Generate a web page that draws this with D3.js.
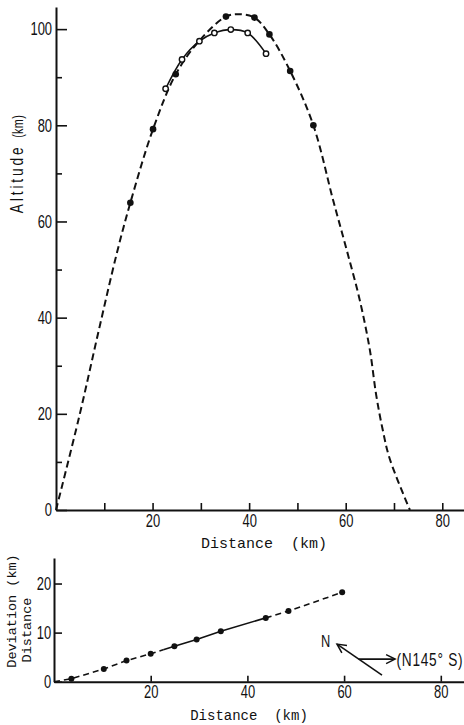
<!DOCTYPE html>
<html>
<head>
<meta charset="utf-8">
<script src="https://cdn.jsdelivr.net/npm/d3@7"></script>
<style>
  body { margin: 0; background: #fff; }
  svg text { fill: #111; }
  .num { font-family: "Liberation Sans", Arial, sans-serif; font-size: 18px; }
  .mono { font-family: "Liberation Mono", "DejaVu Sans Mono", monospace; white-space: pre; }
</style>
</head>
<body>
<div id="chart"></div>
<script>
// dashed trajectory (distance km, altitude km)
var trackX = [0, 4.8, 8.8, 12.6, 15.4, 20.1, 24.8, 29.7, 35.2, 38.1, 41.1, 44.2, 48.5, 53.3, 57.4, 60.2, 62.9, 65.0, 66.3, 67.6, 69.1, 73.3];
var trackY = [0, 19.4, 37.1, 53.4, 63.9, 79.2, 90.6, 97.6, 102.6, 103.1, 102.4, 98.9, 91.3, 80.0, 64.4, 54.1, 43.7, 33.3, 24.0, 17.0, 10.7, 0];

// filled dots on the dashed curve
var dotX = [15.4, 20.1, 24.8, 35.2, 41.1, 44.2, 48.5, 53.3];
var dotY = [63.9, 79.2, 90.6, 102.6, 102.4, 98.9, 91.3, 80.0];

// open circles, solid curve
var obsX = [22.7, 26.1, 29.7, 32.8, 36.2, 39.7, 43.5];
var obsY = [87.6, 93.7, 97.5, 99.2, 99.9, 99.2, 94.9];

// lower panel: deviation distance vs distance
var devX = [3.6, 10.3, 15.0, 20.0, 24.9, 29.5, 34.5, 43.8, 48.5, 59.6];
var devY = [0.6, 2.6, 4.3, 5.7, 7.2, 8.6, 10.3, 13.0, 14.4, 18.2];
var devSolid = [22.6, 43.8];   // part of the lower line drawn solid

var xTicks = [10, 20, 30, 40, 50, 60, 70, 80];
var yMajor = [0, 20, 40, 60, 80, 100];
var yMinor = [10, 30, 50, 70, 90];
var devXTicks = [20, 40, 60, 80];
var devYTicks = [0, 10, 20];

var width = 464, height = 725;
var squeeze = 0.72;   // narrow figures like the printed ones

var svg = d3.select("#chart").append("svg")
    .attr("width", width)
    .attr("height", height);

var ink = "#111";

// ---------- upper panel ----------
var x = d3.scaleLinear().domain([0, 84.5]).range([56, 464]);
var y = d3.scaleLinear().domain([0, 104.6]).range([510, 7]);

var gx = svg.append("g").attr("class", "num")
    .attr("transform", "translate(0," + y(0) + ")")
    .call(d3.axisBottom(x)
        .tickValues(xTicks)
        .tickSizeInner(-7)
        .tickSizeOuter(0)
        .tickPadding(4)
        .tickFormat(d => d % 20 === 0 ? d : ""));

var gy = svg.append("g").attr("class", "num")
    .attr("transform", "translate(" + x(0) + ",0)")
    .call(d3.axisLeft(y)
        .tickValues(yMajor)
        .tickSizeInner(-11)
        .tickSizeOuter(0)
        .tickPadding(5.5));

svg.append("g")
    .attr("transform", "translate(" + x(0) + ",0)")
    .call(d3.axisLeft(y).tickValues(yMinor).tickSizeInner(-6).tickSizeOuter(0).tickFormat(""))
    .call(g => g.select(".domain").remove())
    .call(g => g.selectAll(".tick line").attr("stroke", ink).attr("stroke-width", 1.6));

svg.append("text").attr("class", "mono")
    .attr("x", 264).attr("y", 548)
    .attr("text-anchor", "middle")
    .style("font-size", "15px")
    .text("Distance  (km)");

var alt = svg.append("text").attr("class", "num")
    .attr("transform", "translate(23,164) rotate(-90) scale(" + squeeze + ",1)")
    .attr("text-anchor", "middle")
    .style("font-size", "19px")
    .style("letter-spacing", "4px");
alt.append("tspan").text("Altitude  ");
alt.append("tspan")
    .style("font-size", "15px")
    .style("letter-spacing", "0.5px")
    .text("(km)");

var track = trackX.map((d, i) => [d, trackY[i]]);
var dots = dotX.map((d, i) => [d, dotY[i]]);
var obs = obsX.map((d, i) => [d, obsY[i]]);

var line = d3.line()
    .x(d => x(d[0]))
    .y(d => y(d[1]))
    .curve(d3.curveCatmullRom.alpha(0.5));

svg.append("path")
    .datum(track)
    .attr("d", line)
    .attr("fill", "none")
    .attr("stroke", ink)
    .attr("stroke-width", 2)
    .attr("stroke-dasharray", "7,4");

svg.append("path")
    .datum(obs)
    .attr("d", line)
    .attr("fill", "none")
    .attr("stroke", ink)
    .attr("stroke-width", 1.6);

svg.append("g").selectAll("circle")
    .data(dots)
    .enter().append("circle")
    .attr("cx", d => x(d[0]))
    .attr("cy", d => y(d[1]))
    .attr("r", 3.3)
    .attr("fill", ink);

svg.append("g").selectAll("circle")
    .data(obs)
    .enter().append("circle")
    .attr("cx", d => x(d[0]))
    .attr("cy", d => y(d[1]))
    .attr("r", 2.7)
    .attr("fill", "#fff")
    .attr("stroke", ink)
    .attr("stroke-width", 1.4);

// ---------- lower panel ----------
var xb = d3.scaleLinear().domain([0, 84.8]).range([54, 464]);
var yb = d3.scaleLinear().domain([0, 25.2]).range([681.7, 558]);

var gxb = svg.append("g").attr("class", "num")
    .attr("transform", "translate(0," + yb(0) + ")")
    .call(d3.axisBottom(xb)
        .tickValues(devXTicks)
        .tickSizeInner(-6)
        .tickSizeOuter(0)
        .tickPadding(4));

var gyb = svg.append("g").attr("class", "num")
    .attr("transform", "translate(" + xb(0) + ",0)")
    .call(d3.axisLeft(yb)
        .tickValues(devYTicks)
        .tickSizeInner(-8)
        .tickSizeOuter(0)
        .tickPadding(4));

[gx, gy, gxb, gyb].forEach(g => {
    g.select(".domain").attr("stroke", ink).attr("stroke-width", 2);
    g.selectAll(".tick line").attr("stroke", ink).attr("stroke-width", 1.6);
    g.selectAll(".tick text")
        .attr("fill", ink)
        .attr("transform", "scale(" + squeeze + ",1)");
});

svg.append("text").attr("class", "mono")
    .attr("x", 249).attr("y", 720)
    .attr("text-anchor", "middle")
    .style("font-size", "14px")
    .text("Distance  (km)");

svg.append("text").attr("class", "mono")
    .attr("transform", "translate(15.5,611) rotate(-90)")
    .attr("text-anchor", "middle")
    .style("font-size", "13.5px")
    .text("Deviation (km)");

svg.append("text").attr("class", "mono")
    .attr("transform", "translate(31,630) rotate(-90)")
    .attr("text-anchor", "middle")
    .style("font-size", "13.5px")
    .text("Distance");

var dev = [[0, 0]].concat(devX.map((d, i) => [d, devY[i]]));

// split the lower line into dashed / solid / dashed pieces
function cut(pts, at) {
    for (var i = 1; i < pts.length; i++) {
        if (pts[i][0] >= at) {
            var t = (at - pts[i - 1][0]) / (pts[i][0] - pts[i - 1][0]);
            return [at, pts[i - 1][1] + t * (pts[i][1] - pts[i - 1][1])];
        }
    }
}
var a = cut(dev, devSolid[0]), b = cut(dev, devSolid[1]);
var seg1 = dev.filter(d => d[0] < devSolid[0]).concat([a]);
var seg2 = [a].concat(dev.filter(d => d[0] > devSolid[0] && d[0] < devSolid[1])).concat([b]);
var seg3 = [b].concat(dev.filter(d => d[0] > devSolid[1]));

var lineB = d3.line().x(d => xb(d[0])).y(d => yb(d[1]));

[[seg1, "6,4"], [seg2, null], [seg3, "6,4"]].forEach(s => {
    svg.append("path")
        .datum(s[0])
        .attr("d", lineB)
        .attr("fill", "none")
        .attr("stroke", ink)
        .attr("stroke-width", 1.6)
        .attr("stroke-dasharray", s[1]);
});

svg.append("g").selectAll("circle")
    .data(dev.slice(1))
    .enter().append("circle")
    .attr("cx", d => xb(d[0]))
    .attr("cy", d => yb(d[1]))
    .attr("r", 3)
    .attr("fill", ink);

// compass note: N and direction of deviation axis
var defs = svg.append("defs");
defs.append("marker")
    .attr("id", "arr")
    .attr("viewBox", "-10 -6 12 12")
    .attr("markerWidth", 12).attr("markerHeight", 12)
    .attr("markerUnits", "userSpaceOnUse")
    .attr("orient", "auto")
    .append("path")
    .attr("d", "M-9,-4.5L0,0L-9,4.5")
    .attr("fill", "none")
    .attr("stroke", ink)
    .attr("stroke-width", 1.5);

var cx = xb(63.0), cy = yb(4.6);
svg.append("line")
    .attr("x1", cx + 23.4).attr("y1", cy + 16)
    .attr("x2", cx - 21.6).attr("y2", cy - 15)
    .attr("stroke", ink).attr("stroke-width", 1.6)
    .attr("marker-end", "url(#arr)");
svg.append("line")
    .attr("x1", cx).attr("y1", cy)
    .attr("x2", cx + 36.5).attr("y2", cy)
    .attr("stroke", ink).attr("stroke-width", 1.6)
    .attr("marker-end", "url(#arr)");

svg.append("text").attr("class", "num")
    .attr("transform", "translate(" + (cx - 33) + "," + (cy - 12) + ") scale(0.8,1)")
    .attr("text-anchor", "middle")
    .style("font-size", "16px")
    .text("N");

svg.append("text").attr("class", "num")
    .attr("transform", "translate(" + (cx + 38) + "," + (cy + 6.5) + ") scale(" + squeeze + ",1)")
    .style("font-size", "19px")
    .style("letter-spacing", "1px")
    .text("(N145° S)");
</script>
</body>
</html>
